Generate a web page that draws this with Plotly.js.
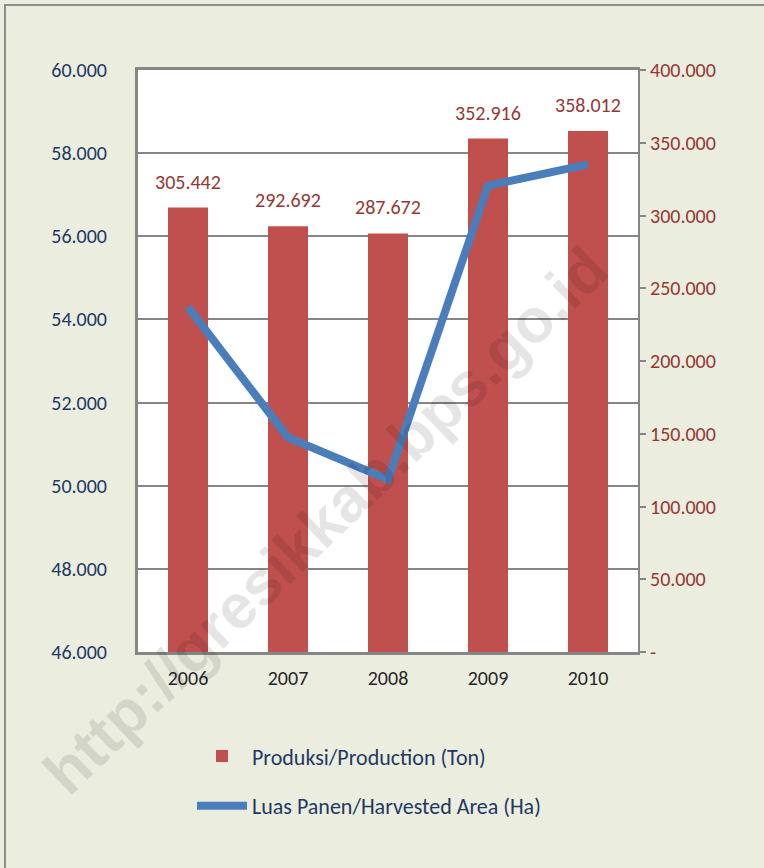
<!DOCTYPE html>
<html>
<head>
<meta charset="utf-8">
<script src="https://cdn.plot.ly/plotly-3.0.1.min.js"></script>
<style>html,body{margin:0;padding:0;background:#ebeedf;}#chart{width:764px;height:868px;}</style>
</head>
<body>
<div id="chart"></div>
<script>
// Data
var years = ['2006', '2007', '2008', '2009', '2010'];
var production = [305442, 292692, 287672, 352916, 358012];           // Ton (right axis)
var productionLabels = ['305.442', '292.692', '287.672', '352.916', '358.012'];
var harvestedArea = [54300, 51160, 50150, 57220, 57730];              // Ha (left axis)
var leftTickVals = [46000, 48000, 50000, 52000, 54000, 56000, 58000, 60000];
var leftTickText = ['46.000', '48.000', '50.000', '52.000', '54.000', '56.000', '58.000', '60.000'];
var rightTickVals = [0, 50000, 100000, 150000, 200000, 250000, 300000, 350000, 400000];
var rightTickText = ['-', '50.000', '100.000', '150.000', '200.000', '250.000', '300.000', '350.000', '400.000'];
var seriesNames = ['Produksi/Production (Ton)', 'Luas Panen/Harvested Area (Ha)'];
var watermark = 'http://gresikkab.bps.go.id';

var FONT = 'Carlito, Lato, sans-serif';

var traces = [
  {
    type: 'bar', x: years, y: production, name: seriesNames[0],
    yaxis: 'y', marker: {color: '#c0504d'}, legendgroup: 'a',
    hoverinfo: 'skip'
  },
  {
    type: 'scatter', mode: 'lines', x: years, y: harvestedArea, name: seriesNames[1],
    yaxis: 'y2', line: {color: '#4a7ebb', width: 8}, legendgroup: 'b',
    hoverinfo: 'skip'
  }
];

var annotations = years.map(function (yr, i) {
  return {
    x: i, y: production[i], xref: 'x', yref: 'y',
    text: productionLabels[i], showarrow: false,
    xanchor: 'center', yanchor: 'bottom', yshift: 12,
    font: {family: FONT, size: 20, color: '#953735'}
  };
});
annotations.push({
  xref: 'paper', yref: 'paper', x: 187 / 500, y: (652 - 520) / 582,
  xanchor: 'center', yanchor: 'middle',
  text: '<b>' + watermark + '</b>', showarrow: false, textangle: -44,
  font: {family: 'Liberation Sans, Arial, sans-serif', size: 62, color: 'rgba(0,0,0,0.1)'}
});

var layout = {
  width: 764, height: 868,
  paper_bgcolor: '#ebeedf', plot_bgcolor: '#ffffff',
  margin: {l: 138, r: 126, t: 70, b: 216},
  font: {family: FONT, size: 20},
  bargap: 0.6,
  showlegend: true,
  legend: {
    x: 0.108, y: -0.143, xanchor: 'left', yanchor: 'top',
    orientation: 'v', bgcolor: 'rgba(0,0,0,0)', itemwidth: 50,
    tracegroupgap: 18, traceorder: 'grouped',
    font: {family: FONT, size: 22, color: '#1f3864'}
  },
  xaxis: {
    type: 'category', range: [-0.5, 4.5], showline: true, linecolor: '#868686', linewidth: 3,
    mirror: true, ticks: '', showgrid: false,
    tickfont: {family: FONT, size: 20, color: '#262626'},
    ticklabelstandoff: 6
  },
  yaxis: {
    side: 'right', range: [0, 400000], tickmode: 'array',
    tickvals: rightTickVals, ticktext: rightTickText,
    showgrid: false, zeroline: false, showline: true, linecolor: '#868686', linewidth: 2,
    ticks: 'outside', ticklen: 6, tickcolor: '#868686', tickwidth: 2,
    tickfont: {family: FONT, size: 20, color: '#953735'},
    ticklabelstandoff: 0
  },
  yaxis2: {
    overlaying: 'y', side: 'left', range: [46000, 60000], tickmode: 'array',
    tickvals: leftTickVals, ticktext: leftTickText,
    showgrid: true, gridcolor: '#868686', gridwidth: 2,
    zeroline: false, showline: true, linecolor: '#868686', linewidth: 3,
    ticks: '', tickfont: {family: FONT, size: 20, color: '#1f3864'},
    ticklabelstandoff: 24
  },
  annotations: annotations,
  shapes: [
    {type: 'rect', xref: 'paper', yref: 'paper', layer: 'below',
     x0: -133 / 500, x1: 700 / 500, y0: -400 / 582, y1: 647 / 582,
     line: {color: '#8c8c8c', width: 2}, fillcolor: 'rgba(0,0,0,0)'}
  ]
};

Plotly.newPlot('chart', traces, layout, {staticPlot: true, displayModeBar: false});
</script>
</body>
</html>
